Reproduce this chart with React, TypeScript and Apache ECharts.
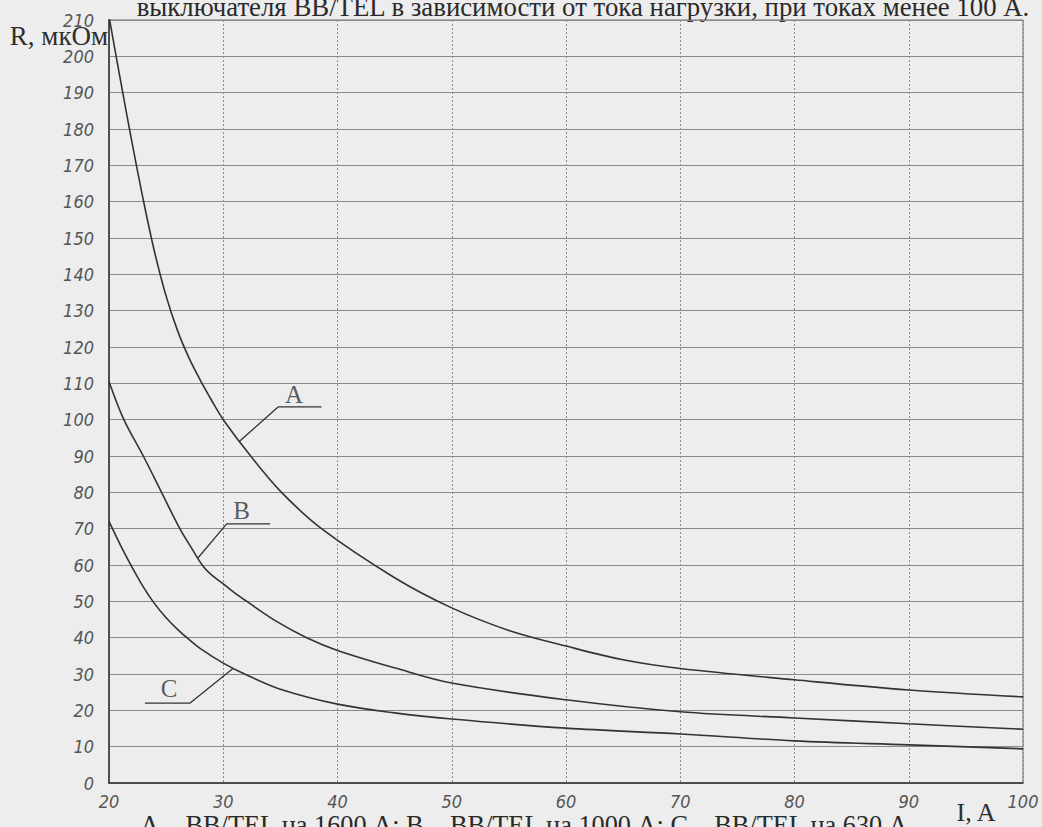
import React, { useEffect, useRef } from "react";
import * as echarts from "echarts";

// ---- texts ----
const titleText = "выключателя ВВ/TEL в зависимости от тока нагрузки, при токах менее 100 А.";
const captionText = "А – ВВ/TEL на 1600 А; В – ВВ/TEL на 1000 А; С – ВВ/TEL на 630 А";
const yAxisName = "R, мкОм";
const xAxisName = "I, A";
const curveNames = ["A", "B", "C"];

// ---- axes ----
const xMin = 20;
const xMax = 100;
const xStep = 10;
const yMin = 0;
const yMax = 210;
const yStep = 10;

// ---- curve A: BB/TEL 1600 A ----
const currentA = [20, 21, 22, 23, 24, 25, 26, 27, 28, 29, 30, 32.4, 35.1, 38.6, 45, 50, 55, 60, 65, 70, 80, 90, 100];
const resistanceA = [211, 193.5, 176.5, 160.5, 146, 134, 124.5, 117, 110.8, 105.2, 100, 90, 80, 70, 56.5, 48.2, 42, 37.7, 33.9, 31.5, 28.4, 25.6, 23.7];

// ---- curve B: BB/TEL 1000 A ----
const currentB = [20, 21.3, 23, 24.6, 26.2, 27.2, 28.2, 29, 30, 31, 32.1, 34.7, 37.3, 40, 45, 50, 60, 70, 80, 90, 100];
const resistanceB = [110.5, 100, 90, 80, 70, 64.8, 59.8, 57.2, 54.8, 52.3, 49.9, 44.4, 40, 36.5, 31.7, 27.5, 22.9, 19.6, 17.9, 16.3, 14.8];

// ---- curve C: BB/TEL 630 A ----
const currentC = [20, 21, 22, 23, 24, 25, 26, 27, 28, 30, 32, 35, 40, 45, 50, 60, 70, 80, 90, 100];
const resistanceC = [72, 65.5, 59.5, 54, 49.3, 45.5, 42.3, 39.5, 37, 33, 29.8, 25.8, 21.7, 19.3, 17.6, 15.1, 13.5, 11.6, 10.5, 9.4];

// ---- leader lines for the curve letters (data coordinates) ----
const leaderA = [[31.4, 94], [34.8, 103.5], [38.6, 103.5]];
const leaderB = [[27.8, 62], [30.3, 71.3], [34.1, 71.3]];
const leaderC = [[23.15, 22], [27.1, 22], [30.85, 31.5]];
const letterPositions = [[36.2, 106.8], [31.6, 74.9], [25.25, 26.1]];

const pair = (xs: number[], ys: number[]) => xs.map((x, i) => [x, ys[i]]);

const curveColor = "#333333";
const serif = "'Liberation Serif', 'Times New Roman', serif";
const tickFont = "'Liberation Sans Narrow', 'DejaVu Sans Condensed', 'Open Sans', sans-serif";

export default function App() {
  const ref = useRef<HTMLDivElement>(null);
  useEffect(() => {
    if (!ref.current) return;
    const chart = echarts.init(ref.current, undefined, { renderer: "svg" });
    const curveSeries = [
      pair(currentA, resistanceA),
      pair(currentB, resistanceB),
      pair(currentC, resistanceC),
    ].map((data, i) => ({
      name: curveNames[i],
      type: "line",
      data,
      smooth: 0.35,
      symbol: "none",
      lineStyle: { color: curveColor, width: 1.6 },
      z: 5,
    }));
    const leaderSeries = [leaderA, leaderB, leaderC].map((data) => ({
      type: "line",
      data,
      symbol: "none",
      lineStyle: { color: curveColor, width: 1.3 },
      z: 5,
    }));
    const labelStyle = {
      color: "#555",
      fontFamily: tickFont,
      fontStyle: "italic",
      fontWeight: "normal",
      fontSize: 18,
      showMinLabel: true,
      showMaxLabel: true,
    };
    chart.setOption({
      animation: false,
      backgroundColor: "#ededed",
      grid: {
        left: 109,
        right: 19,
        top: 20,
        bottom: 44,
        show: true,
        borderColor: "#6a6a6a",
        borderWidth: 1,
        backgroundColor: "transparent",
        containLabel: false,
        outerBoundsMode: "none",
      },
      xAxis: {
        type: "value",
        min: xMin,
        max: xMax,
        interval: xStep,
        axisLine: { show: true, onZero: false, lineStyle: { color: "#333", width: 1.5 } },
        axisTick: { show: false },
        splitLine: { show: true, lineStyle: { color: "#8c8c8c", width: 1, type: [2, 2] } },
        axisLabel: { ...labelStyle, margin: 9 },
      },
      yAxis: {
        type: "value",
        min: yMin,
        max: yMax,
        interval: yStep,
        axisLine: { show: true, onZero: false, lineStyle: { color: "#333", width: 1.5 } },
        axisTick: { show: false },
        splitLine: { show: true, lineStyle: { color: "#8a8a8a", width: 1 } },
        axisLabel: { ...labelStyle, margin: 15 },
      },
      series: [
        ...curveSeries,
        ...leaderSeries,
        {
          type: "scatter",
          data: letterPositions.map((p, i) => ({ value: p, name: curveNames[i] })),
          symbolSize: 0,
          z: 6,
          label: {
            show: true,
            position: "inside",
            formatter: (p: any) => p.name,
            color: "#333",
            fontFamily: serif,
            fontSize: 25,
          },
        },
      ],
      graphic: [
        {
          type: "text",
          x: 583,
          y: 20,
          style: {
            text: titleText,
            font: `26.8px ${serif}`,
            fill: "#2a2a2a",
            textAlign: "center",
            textVerticalAlign: "bottom",
          },
        },
        {
          type: "text",
          x: 59,
          y: 36,
          style: {
            text: yAxisName,
            font: `27px ${serif}`,
            fill: "#2f2f2f",
            textAlign: "center",
            textVerticalAlign: "middle",
          },
        },
        {
          type: "text",
          x: 976,
          y: 812,
          style: {
            text: xAxisName,
            font: `26px ${serif}`,
            fill: "#2f2f2f",
            textAlign: "center",
            textVerticalAlign: "middle",
          },
        },
        {
          type: "text",
          x: 524,
          y: 838,
          style: {
            text: captionText,
            font: `26.3px ${serif}`,
            fill: "#2a2a2a",
            textAlign: "center",
            textVerticalAlign: "bottom",
          },
        },
      ],
    });
    return () => chart.dispose();
  }, []);
  return (
    <div
      ref={ref}
      style={{ position: "absolute", left: 0, top: 0, width: 1042, height: 827 }}
    />
  );
}
